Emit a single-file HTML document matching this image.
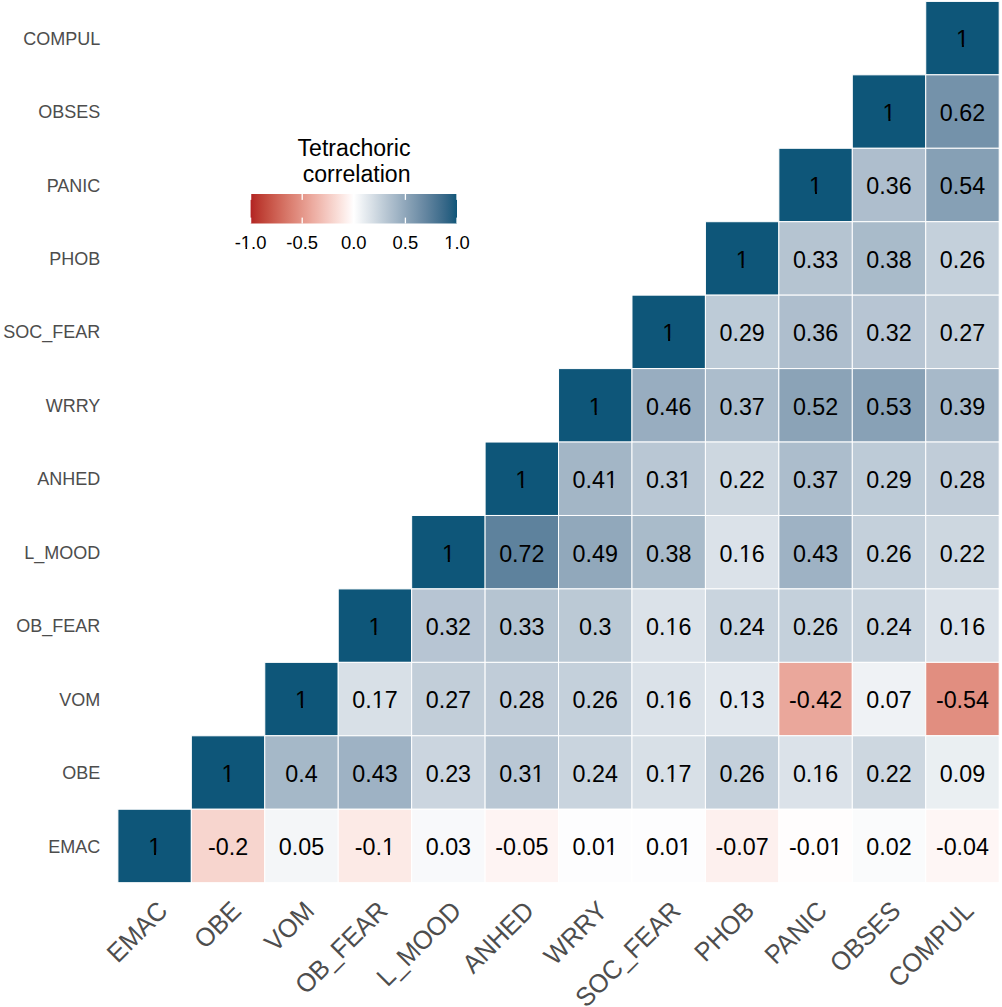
<!DOCTYPE html>
<html><head><meta charset="utf-8"><style>
html,body{margin:0;padding:0;background:#fff;}
body{width:1002px;height:1007px;position:relative;overflow:hidden;font-family:"Liberation Sans",sans-serif;}
svg{position:absolute;left:0;top:0;}
.c{position:absolute;width:120px;height:30px;line-height:30px;text-align:center;color:#000;font-size:23.30px;white-space:nowrap;transform:scaleY(1.040);}
.o{display:inline-block;line-height:1em;clip-path:polygon(0 0,100% 0,100% 70%,61.1% 70%,61.1% 100%,45.2% 100%,45.2% 70%,0 70%);}
.yl{position:absolute;right:901.70px;color:#4d4d4d;font-size:18.00px;height:20px;line-height:20px;white-space:nowrap;transform:scaleY(1.040);}
.xl{position:absolute;color:#4d4d4d;font-size:25.20px;line-height:1;white-space:nowrap;transform-origin:100% 0;transform:rotate(-45deg) scaleY(1.040);}
.lt{position:absolute;font-size:18.40px;color:#000;white-space:nowrap;line-height:1;width:60px;text-align:center;transform:scaleY(1.040);}
</style></head><body>

<svg width="1002" height="1007" viewBox="0 0 1002 1007">
<rect x="925.74" y="1.40" width="73.44" height="73.44" fill="#0e5679" stroke="#fff" stroke-width="1.00"/>
<rect x="852.30" y="74.84" width="73.44" height="73.44" fill="#0e5679" stroke="#fff" stroke-width="1.00"/>
<rect x="925.74" y="74.84" width="73.44" height="73.44" fill="#7492aa" stroke="#fff" stroke-width="1.00"/>
<rect x="778.86" y="148.28" width="73.44" height="73.44" fill="#0e5679" stroke="#fff" stroke-width="1.00"/>
<rect x="852.30" y="148.28" width="73.44" height="73.44" fill="#aebecd" stroke="#fff" stroke-width="1.00"/>
<rect x="925.74" y="148.28" width="73.44" height="73.44" fill="#86a0b5" stroke="#fff" stroke-width="1.00"/>
<rect x="705.42" y="221.72" width="73.44" height="73.44" fill="#0e5679" stroke="#fff" stroke-width="1.00"/>
<rect x="778.86" y="221.72" width="73.44" height="73.44" fill="#b5c4d1" stroke="#fff" stroke-width="1.00"/>
<rect x="852.30" y="221.72" width="73.44" height="73.44" fill="#a9bbca" stroke="#fff" stroke-width="1.00"/>
<rect x="925.74" y="221.72" width="73.44" height="73.44" fill="#c4d0db" stroke="#fff" stroke-width="1.00"/>
<rect x="631.98" y="295.16" width="73.44" height="73.44" fill="#0e5679" stroke="#fff" stroke-width="1.00"/>
<rect x="705.42" y="295.16" width="73.44" height="73.44" fill="#bdcbd7" stroke="#fff" stroke-width="1.00"/>
<rect x="778.86" y="295.16" width="73.44" height="73.44" fill="#aebecd" stroke="#fff" stroke-width="1.00"/>
<rect x="852.30" y="295.16" width="73.44" height="73.44" fill="#b7c5d3" stroke="#fff" stroke-width="1.00"/>
<rect x="925.74" y="295.16" width="73.44" height="73.44" fill="#c2ced9" stroke="#fff" stroke-width="1.00"/>
<rect x="558.54" y="368.60" width="73.44" height="73.44" fill="#0e5679" stroke="#fff" stroke-width="1.00"/>
<rect x="631.98" y="368.60" width="73.44" height="73.44" fill="#98adc0" stroke="#fff" stroke-width="1.00"/>
<rect x="705.42" y="368.60" width="73.44" height="73.44" fill="#acbdcc" stroke="#fff" stroke-width="1.00"/>
<rect x="778.86" y="368.60" width="73.44" height="73.44" fill="#8ba3b7" stroke="#fff" stroke-width="1.00"/>
<rect x="852.30" y="368.60" width="73.44" height="73.44" fill="#88a1b6" stroke="#fff" stroke-width="1.00"/>
<rect x="925.74" y="368.60" width="73.44" height="73.44" fill="#a7b9c9" stroke="#fff" stroke-width="1.00"/>
<rect x="485.10" y="442.04" width="73.44" height="73.44" fill="#0e5679" stroke="#fff" stroke-width="1.00"/>
<rect x="558.54" y="442.04" width="73.44" height="73.44" fill="#a3b6c6" stroke="#fff" stroke-width="1.00"/>
<rect x="631.98" y="442.04" width="73.44" height="73.44" fill="#b9c7d4" stroke="#fff" stroke-width="1.00"/>
<rect x="705.42" y="442.04" width="73.44" height="73.44" fill="#cdd7e0" stroke="#fff" stroke-width="1.00"/>
<rect x="778.86" y="442.04" width="73.44" height="73.44" fill="#acbdcc" stroke="#fff" stroke-width="1.00"/>
<rect x="852.30" y="442.04" width="73.44" height="73.44" fill="#bdcbd7" stroke="#fff" stroke-width="1.00"/>
<rect x="925.74" y="442.04" width="73.44" height="73.44" fill="#c0ccd8" stroke="#fff" stroke-width="1.00"/>
<rect x="411.66" y="515.48" width="73.44" height="73.44" fill="#0e5679" stroke="#fff" stroke-width="1.00"/>
<rect x="485.10" y="515.48" width="73.44" height="73.44" fill="#5e829d" stroke="#fff" stroke-width="1.00"/>
<rect x="558.54" y="515.48" width="73.44" height="73.44" fill="#91a8bb" stroke="#fff" stroke-width="1.00"/>
<rect x="631.98" y="515.48" width="73.44" height="73.44" fill="#a9bbca" stroke="#fff" stroke-width="1.00"/>
<rect x="705.42" y="515.48" width="73.44" height="73.44" fill="#dbe2e9" stroke="#fff" stroke-width="1.00"/>
<rect x="778.86" y="515.48" width="73.44" height="73.44" fill="#9eb2c4" stroke="#fff" stroke-width="1.00"/>
<rect x="852.30" y="515.48" width="73.44" height="73.44" fill="#c4d0db" stroke="#fff" stroke-width="1.00"/>
<rect x="925.74" y="515.48" width="73.44" height="73.44" fill="#cdd7e0" stroke="#fff" stroke-width="1.00"/>
<rect x="338.22" y="588.92" width="73.44" height="73.44" fill="#0e5679" stroke="#fff" stroke-width="1.00"/>
<rect x="411.66" y="588.92" width="73.44" height="73.44" fill="#b7c5d3" stroke="#fff" stroke-width="1.00"/>
<rect x="485.10" y="588.92" width="73.44" height="73.44" fill="#b5c4d1" stroke="#fff" stroke-width="1.00"/>
<rect x="558.54" y="588.92" width="73.44" height="73.44" fill="#bbc9d5" stroke="#fff" stroke-width="1.00"/>
<rect x="631.98" y="588.92" width="73.44" height="73.44" fill="#dbe2e9" stroke="#fff" stroke-width="1.00"/>
<rect x="705.42" y="588.92" width="73.44" height="73.44" fill="#c9d4de" stroke="#fff" stroke-width="1.00"/>
<rect x="778.86" y="588.92" width="73.44" height="73.44" fill="#c4d0db" stroke="#fff" stroke-width="1.00"/>
<rect x="852.30" y="588.92" width="73.44" height="73.44" fill="#c9d4de" stroke="#fff" stroke-width="1.00"/>
<rect x="925.74" y="588.92" width="73.44" height="73.44" fill="#dbe2e9" stroke="#fff" stroke-width="1.00"/>
<rect x="264.78" y="662.36" width="73.44" height="73.44" fill="#0e5679" stroke="#fff" stroke-width="1.00"/>
<rect x="338.22" y="662.36" width="73.44" height="73.44" fill="#d8e0e7" stroke="#fff" stroke-width="1.00"/>
<rect x="411.66" y="662.36" width="73.44" height="73.44" fill="#c2ced9" stroke="#fff" stroke-width="1.00"/>
<rect x="485.10" y="662.36" width="73.44" height="73.44" fill="#c0ccd8" stroke="#fff" stroke-width="1.00"/>
<rect x="558.54" y="662.36" width="73.44" height="73.44" fill="#c4d0db" stroke="#fff" stroke-width="1.00"/>
<rect x="631.98" y="662.36" width="73.44" height="73.44" fill="#dbe2e9" stroke="#fff" stroke-width="1.00"/>
<rect x="705.42" y="662.36" width="73.44" height="73.44" fill="#e1e7ed" stroke="#fff" stroke-width="1.00"/>
<rect x="778.86" y="662.36" width="73.44" height="73.44" fill="#eaa79b" stroke="#fff" stroke-width="1.00"/>
<rect x="852.30" y="662.36" width="73.44" height="73.44" fill="#eff2f5" stroke="#fff" stroke-width="1.00"/>
<rect x="925.74" y="662.36" width="73.44" height="73.44" fill="#e18e80" stroke="#fff" stroke-width="1.00"/>
<rect x="191.34" y="735.80" width="73.44" height="73.44" fill="#0e5679" stroke="#fff" stroke-width="1.00"/>
<rect x="264.78" y="735.80" width="73.44" height="73.44" fill="#a5b8c8" stroke="#fff" stroke-width="1.00"/>
<rect x="338.22" y="735.80" width="73.44" height="73.44" fill="#9eb2c4" stroke="#fff" stroke-width="1.00"/>
<rect x="411.66" y="735.80" width="73.44" height="73.44" fill="#cbd5df" stroke="#fff" stroke-width="1.00"/>
<rect x="485.10" y="735.80" width="73.44" height="73.44" fill="#b9c7d4" stroke="#fff" stroke-width="1.00"/>
<rect x="558.54" y="735.80" width="73.44" height="73.44" fill="#c9d4de" stroke="#fff" stroke-width="1.00"/>
<rect x="631.98" y="735.80" width="73.44" height="73.44" fill="#d8e0e7" stroke="#fff" stroke-width="1.00"/>
<rect x="705.42" y="735.80" width="73.44" height="73.44" fill="#c4d0db" stroke="#fff" stroke-width="1.00"/>
<rect x="778.86" y="735.80" width="73.44" height="73.44" fill="#dbe2e9" stroke="#fff" stroke-width="1.00"/>
<rect x="852.30" y="735.80" width="73.44" height="73.44" fill="#cdd7e0" stroke="#fff" stroke-width="1.00"/>
<rect x="925.74" y="735.80" width="73.44" height="73.44" fill="#eaeff2" stroke="#fff" stroke-width="1.00"/>
<rect x="117.90" y="809.24" width="73.44" height="73.44" fill="#0e5679" stroke="#fff" stroke-width="1.00"/>
<rect x="191.34" y="809.24" width="73.44" height="73.44" fill="#f7d5ce" stroke="#fff" stroke-width="1.00"/>
<rect x="264.78" y="809.24" width="73.44" height="73.44" fill="#f4f6f8" stroke="#fff" stroke-width="1.00"/>
<rect x="338.22" y="809.24" width="73.44" height="73.44" fill="#fceae6" stroke="#fff" stroke-width="1.00"/>
<rect x="411.66" y="809.24" width="73.44" height="73.44" fill="#f8f9fb" stroke="#fff" stroke-width="1.00"/>
<rect x="485.10" y="809.24" width="73.44" height="73.44" fill="#fef4f3" stroke="#fff" stroke-width="1.00"/>
<rect x="558.54" y="809.24" width="73.44" height="73.44" fill="#fdfdfe" stroke="#fff" stroke-width="1.00"/>
<rect x="631.98" y="809.24" width="73.44" height="73.44" fill="#fdfdfe" stroke="#fff" stroke-width="1.00"/>
<rect x="705.42" y="809.24" width="73.44" height="73.44" fill="#fdf0ee" stroke="#fff" stroke-width="1.00"/>
<rect x="778.86" y="809.24" width="73.44" height="73.44" fill="#fffdfd" stroke="#fff" stroke-width="1.00"/>
<rect x="852.30" y="809.24" width="73.44" height="73.44" fill="#fafbfc" stroke="#fff" stroke-width="1.00"/>
<rect x="925.74" y="809.24" width="73.44" height="73.44" fill="#fef6f5" stroke="#fff" stroke-width="1.00"/>
<defs><linearGradient id="g" x1="0" x2="1" y1="0" y2="0">
<stop offset="0.0000" stop-color="#b22222"/>
<stop offset="0.0250" stop-color="#b8322c"/>
<stop offset="0.0500" stop-color="#be3f35"/>
<stop offset="0.0750" stop-color="#c34b3f"/>
<stop offset="0.1000" stop-color="#c95649"/>
<stop offset="0.1250" stop-color="#ce6154"/>
<stop offset="0.1500" stop-color="#d36c5e"/>
<stop offset="0.1750" stop-color="#d77769"/>
<stop offset="0.2000" stop-color="#dc8173"/>
<stop offset="0.2250" stop-color="#e08b7e"/>
<stop offset="0.2500" stop-color="#e49689"/>
<stop offset="0.2750" stop-color="#e8a094"/>
<stop offset="0.3000" stop-color="#ecaba0"/>
<stop offset="0.3250" stop-color="#efb5ab"/>
<stop offset="0.3500" stop-color="#f2c0b7"/>
<stop offset="0.3750" stop-color="#f5cac3"/>
<stop offset="0.4000" stop-color="#f7d5ce"/>
<stop offset="0.4250" stop-color="#fadfda"/>
<stop offset="0.4500" stop-color="#fceae6"/>
<stop offset="0.4750" stop-color="#fef4f3"/>
<stop offset="0.5000" stop-color="#ffffff"/>
<stop offset="0.5250" stop-color="#f4f6f8"/>
<stop offset="0.5500" stop-color="#e8edf1"/>
<stop offset="0.5750" stop-color="#dde4ea"/>
<stop offset="0.6000" stop-color="#d2dbe3"/>
<stop offset="0.6250" stop-color="#c6d2dc"/>
<stop offset="0.6500" stop-color="#bbc9d5"/>
<stop offset="0.6750" stop-color="#b0c0ce"/>
<stop offset="0.7000" stop-color="#a5b8c8"/>
<stop offset="0.7250" stop-color="#9aafc1"/>
<stop offset="0.7500" stop-color="#8fa6ba"/>
<stop offset="0.7750" stop-color="#849eb3"/>
<stop offset="0.8000" stop-color="#7996ad"/>
<stop offset="0.8250" stop-color="#6e8da6"/>
<stop offset="0.8500" stop-color="#6385a0"/>
<stop offset="0.8750" stop-color="#577d99"/>
<stop offset="0.9000" stop-color="#4b7593"/>
<stop offset="0.9250" stop-color="#3f6d8c"/>
<stop offset="0.9500" stop-color="#326586"/>
<stop offset="0.9750" stop-color="#235e7f"/>
<stop offset="1.0000" stop-color="#0e5679"/>
</linearGradient></defs>
<rect x="250.60" y="194.00" width="206.40" height="29.50" fill="url(#g)"/>
<rect x="249.95" y="194.00" width="1.30" height="5.90" fill="#fff"/>
<rect x="249.95" y="217.60" width="1.30" height="5.90" fill="#fff"/>
<rect x="301.55" y="194.00" width="1.30" height="5.90" fill="#fff"/>
<rect x="301.55" y="217.60" width="1.30" height="5.90" fill="#fff"/>
<rect x="353.15" y="194.00" width="1.30" height="5.90" fill="#fff"/>
<rect x="353.15" y="217.60" width="1.30" height="5.90" fill="#fff"/>
<rect x="404.75" y="194.00" width="1.30" height="5.90" fill="#fff"/>
<rect x="404.75" y="217.60" width="1.30" height="5.90" fill="#fff"/>
<rect x="456.35" y="194.00" width="1.30" height="5.90" fill="#fff"/>
<rect x="456.35" y="217.60" width="1.30" height="5.90" fill="#fff"/>
</svg>
<div class="c" style="left:902.46px;top:24.42px"><span class="o">1</span></div>
<div class="c" style="left:829.02px;top:97.86px"><span class="o">1</span></div>
<div class="c" style="left:902.46px;top:97.86px">0.62</div>
<div class="c" style="left:755.58px;top:171.30px"><span class="o">1</span></div>
<div class="c" style="left:829.02px;top:171.30px">0.36</div>
<div class="c" style="left:902.46px;top:171.30px">0.54</div>
<div class="c" style="left:682.14px;top:244.74px"><span class="o">1</span></div>
<div class="c" style="left:755.58px;top:244.74px">0.33</div>
<div class="c" style="left:829.02px;top:244.74px">0.38</div>
<div class="c" style="left:902.46px;top:244.74px">0.26</div>
<div class="c" style="left:608.70px;top:318.18px"><span class="o">1</span></div>
<div class="c" style="left:682.14px;top:318.18px">0.29</div>
<div class="c" style="left:755.58px;top:318.18px">0.36</div>
<div class="c" style="left:829.02px;top:318.18px">0.32</div>
<div class="c" style="left:902.46px;top:318.18px">0.27</div>
<div class="c" style="left:535.26px;top:391.62px"><span class="o">1</span></div>
<div class="c" style="left:608.70px;top:391.62px">0.46</div>
<div class="c" style="left:682.14px;top:391.62px">0.37</div>
<div class="c" style="left:755.58px;top:391.62px">0.52</div>
<div class="c" style="left:829.02px;top:391.62px">0.53</div>
<div class="c" style="left:902.46px;top:391.62px">0.39</div>
<div class="c" style="left:461.82px;top:465.06px"><span class="o">1</span></div>
<div class="c" style="left:535.26px;top:465.06px">0.4<span class="o">1</span></div>
<div class="c" style="left:608.70px;top:465.06px">0.3<span class="o">1</span></div>
<div class="c" style="left:682.14px;top:465.06px">0.22</div>
<div class="c" style="left:755.58px;top:465.06px">0.37</div>
<div class="c" style="left:829.02px;top:465.06px">0.29</div>
<div class="c" style="left:902.46px;top:465.06px">0.28</div>
<div class="c" style="left:388.38px;top:538.50px"><span class="o">1</span></div>
<div class="c" style="left:461.82px;top:538.50px">0.72</div>
<div class="c" style="left:535.26px;top:538.50px">0.49</div>
<div class="c" style="left:608.70px;top:538.50px">0.38</div>
<div class="c" style="left:682.14px;top:538.50px">0.<span class="o">1</span>6</div>
<div class="c" style="left:755.58px;top:538.50px">0.43</div>
<div class="c" style="left:829.02px;top:538.50px">0.26</div>
<div class="c" style="left:902.46px;top:538.50px">0.22</div>
<div class="c" style="left:314.94px;top:611.94px"><span class="o">1</span></div>
<div class="c" style="left:388.38px;top:611.94px">0.32</div>
<div class="c" style="left:461.82px;top:611.94px">0.33</div>
<div class="c" style="left:535.26px;top:611.94px">0.3</div>
<div class="c" style="left:608.70px;top:611.94px">0.<span class="o">1</span>6</div>
<div class="c" style="left:682.14px;top:611.94px">0.24</div>
<div class="c" style="left:755.58px;top:611.94px">0.26</div>
<div class="c" style="left:829.02px;top:611.94px">0.24</div>
<div class="c" style="left:902.46px;top:611.94px">0.<span class="o">1</span>6</div>
<div class="c" style="left:241.50px;top:685.38px"><span class="o">1</span></div>
<div class="c" style="left:314.94px;top:685.38px">0.<span class="o">1</span>7</div>
<div class="c" style="left:388.38px;top:685.38px">0.27</div>
<div class="c" style="left:461.82px;top:685.38px">0.28</div>
<div class="c" style="left:535.26px;top:685.38px">0.26</div>
<div class="c" style="left:608.70px;top:685.38px">0.<span class="o">1</span>6</div>
<div class="c" style="left:682.14px;top:685.38px">0.<span class="o">1</span>3</div>
<div class="c" style="left:755.58px;top:685.38px">-0.42</div>
<div class="c" style="left:829.02px;top:685.38px">0.07</div>
<div class="c" style="left:902.46px;top:685.38px">-0.54</div>
<div class="c" style="left:168.06px;top:758.82px"><span class="o">1</span></div>
<div class="c" style="left:241.50px;top:758.82px">0.4</div>
<div class="c" style="left:314.94px;top:758.82px">0.43</div>
<div class="c" style="left:388.38px;top:758.82px">0.23</div>
<div class="c" style="left:461.82px;top:758.82px">0.3<span class="o">1</span></div>
<div class="c" style="left:535.26px;top:758.82px">0.24</div>
<div class="c" style="left:608.70px;top:758.82px">0.<span class="o">1</span>7</div>
<div class="c" style="left:682.14px;top:758.82px">0.26</div>
<div class="c" style="left:755.58px;top:758.82px">0.<span class="o">1</span>6</div>
<div class="c" style="left:829.02px;top:758.82px">0.22</div>
<div class="c" style="left:902.46px;top:758.82px">0.09</div>
<div class="c" style="left:94.62px;top:832.26px"><span class="o">1</span></div>
<div class="c" style="left:168.06px;top:832.26px">-0.2</div>
<div class="c" style="left:241.50px;top:832.26px">0.05</div>
<div class="c" style="left:314.94px;top:832.26px">-0.<span class="o">1</span></div>
<div class="c" style="left:388.38px;top:832.26px">0.03</div>
<div class="c" style="left:461.82px;top:832.26px">-0.05</div>
<div class="c" style="left:535.26px;top:832.26px">0.0<span class="o">1</span></div>
<div class="c" style="left:608.70px;top:832.26px">0.0<span class="o">1</span></div>
<div class="c" style="left:682.14px;top:832.26px">-0.07</div>
<div class="c" style="left:755.58px;top:832.26px">-0.0<span class="o">1</span></div>
<div class="c" style="left:829.02px;top:832.26px">0.02</div>
<div class="c" style="left:902.46px;top:832.26px">-0.04</div>
<div class="yl" style="top:28.72px">COMPUL</div>
<div class="yl" style="top:102.16px">OBSES</div>
<div class="yl" style="top:175.60px">PANIC</div>
<div class="yl" style="top:249.04px">PHOB</div>
<div class="yl" style="top:322.48px">SOC_FEAR</div>
<div class="yl" style="top:395.92px">WRRY</div>
<div class="yl" style="top:469.36px">ANHED</div>
<div class="yl" style="top:542.80px">L_MOOD</div>
<div class="yl" style="top:616.24px">OB_FEAR</div>
<div class="yl" style="top:689.68px">VOM</div>
<div class="yl" style="top:763.12px">OBE</div>
<div class="yl" style="top:836.56px">EMAC</div>
<div class="xl" style="right:848.43px;top:896.90px">EMAC</div>
<div class="xl" style="right:775.10px;top:896.90px">OBE</div>
<div class="xl" style="right:701.77px;top:896.90px">VOM</div>
<div class="xl" style="right:628.43px;top:896.90px">OB_FEAR</div>
<div class="xl" style="right:555.10px;top:896.90px">L_MOOD</div>
<div class="xl" style="right:481.77px;top:896.90px">ANHED</div>
<div class="xl" style="right:408.44px;top:896.90px">WRRY</div>
<div class="xl" style="right:335.10px;top:896.90px">SOC_FEAR</div>
<div class="xl" style="right:261.77px;top:896.90px">PHOB</div>
<div class="xl" style="right:188.44px;top:896.90px">PANIC</div>
<div class="xl" style="right:115.10px;top:896.90px">OBSES</div>
<div class="xl" style="right:41.77px;top:896.90px">COMPUL</div>
<div class="lt" style="left:220.60px;top:233.50px">-<span class="o">1</span>.0</div>
<div class="lt" style="left:272.20px;top:233.50px">-0.5</div>
<div class="lt" style="left:323.80px;top:233.50px">0.0</div>
<div class="lt" style="left:375.40px;top:233.50px">0.5</div>
<div class="lt" style="left:427.00px;top:233.50px"><span class="o">1</span>.0</div>
<div style="position:absolute;right:591.50px;top:136.20px;font-size:23.10px;line-height:24.6px;color:#000;text-align:right;white-space:nowrap;transform:scaleY(1.040)">Tetrachoric<br>correlation</div>
</body></html>
